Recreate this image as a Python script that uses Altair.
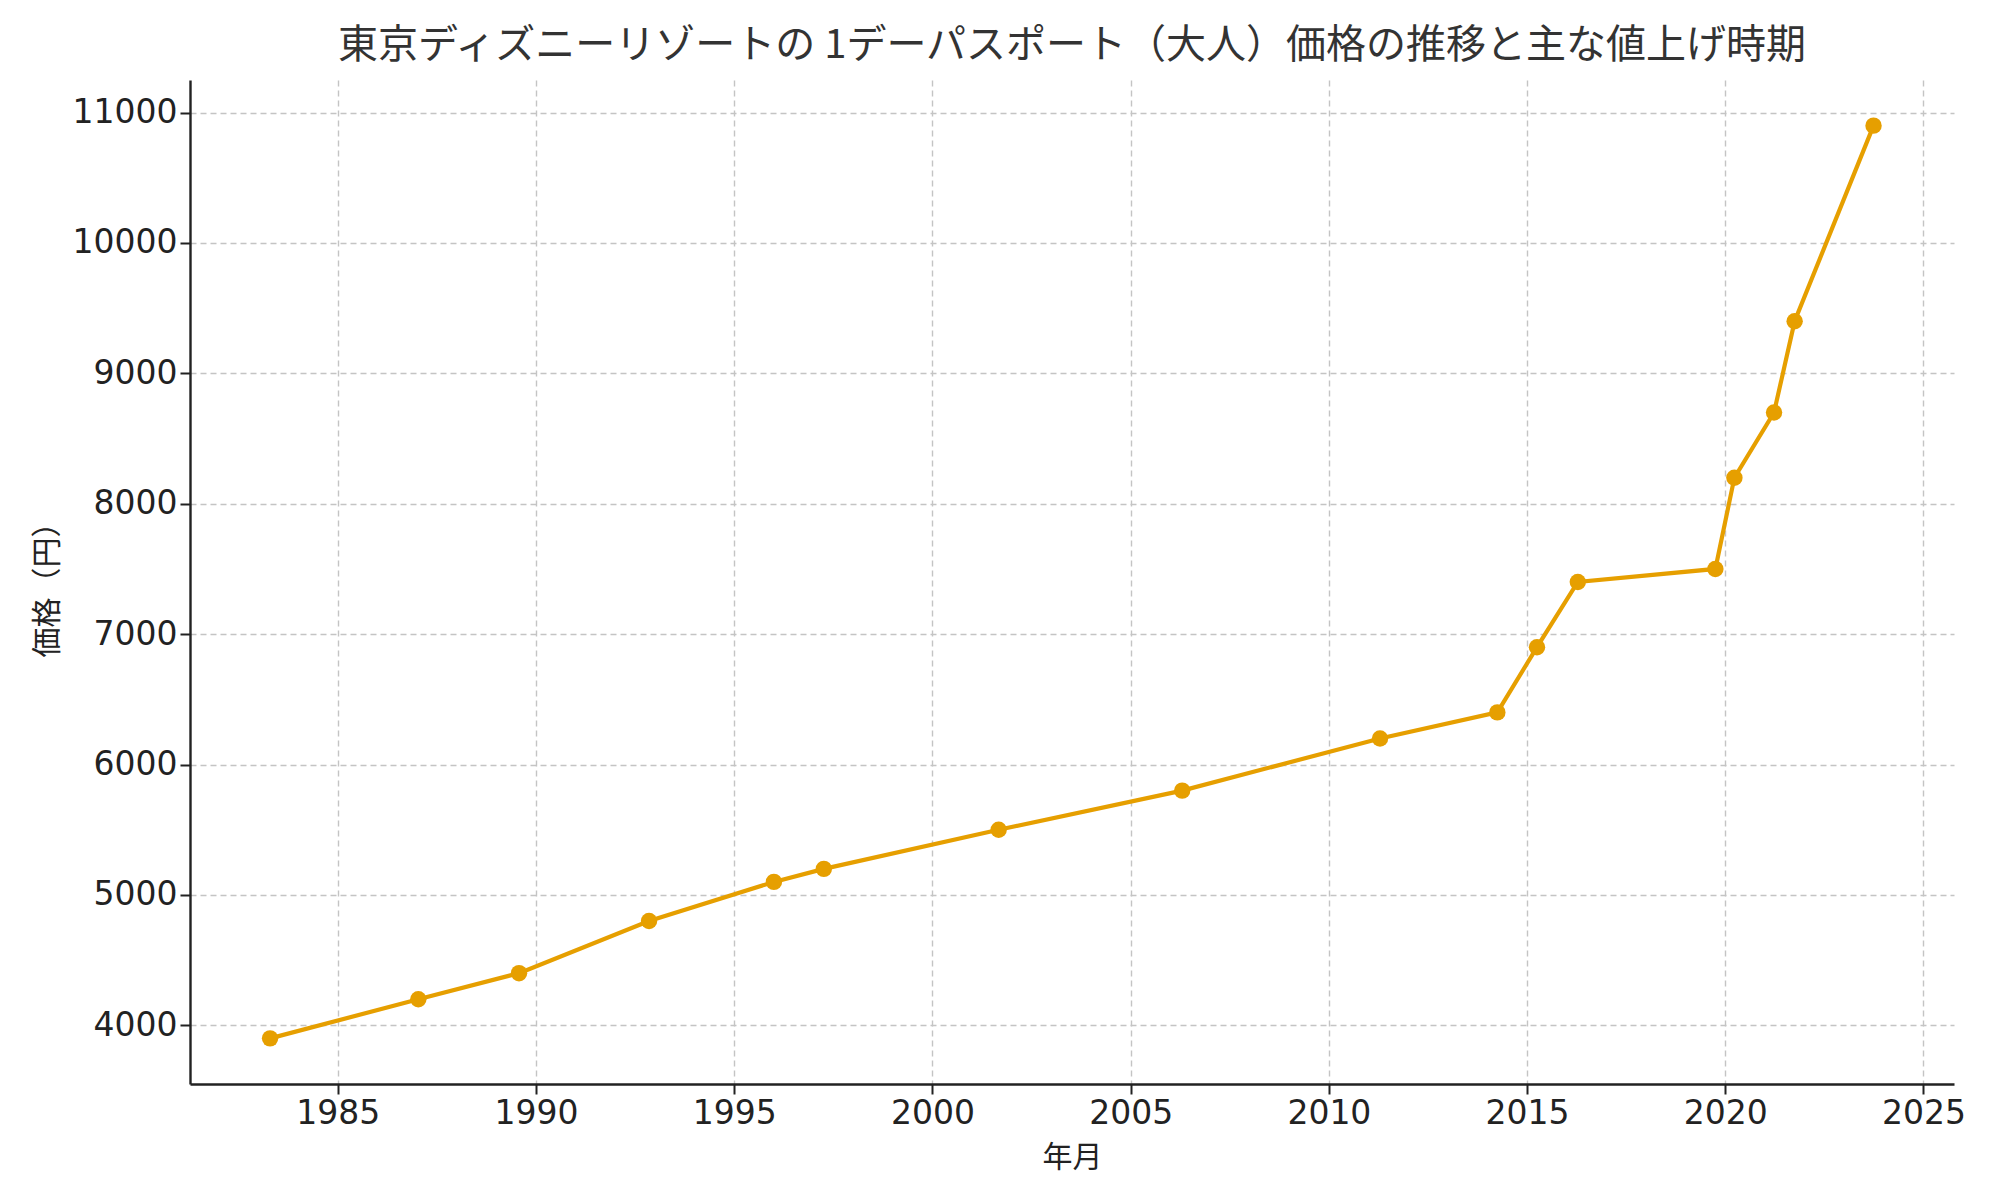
import altair as alt
import pandas as pd

years = [1983.29, 1987.03, 1989.57, 1992.85, 1996.0, 1997.26, 2001.67, 2006.30,
         2011.29, 2014.25, 2015.25, 2016.28, 2019.75, 2020.23, 2021.23, 2021.75, 2023.74]
prices = [3900, 4200, 4400, 4800, 5100, 5200, 5500, 5800,
          6200, 6400, 6900, 7400, 7500, 8200, 8700, 9400, 10900]
x_ticks = [1985, 1990, 1995, 2000, 2005, 2010, 2015, 2020, 2025]
y_ticks = [4000, 5000, 6000, 7000, 8000, 9000, 10000, 11000]

title_text = "東京ディズニーリゾートの 1デーパスポート（大人）価格の推移と主な値上げ時期"
x_label = "年月"
y_label = "価格（円）"

df = pd.DataFrame({"year": years, "price": prices})

color = "#E69F00"
common_axis = dict(format="d", labelFontSize=33, titleFontSize=30,
                   tickSize=10, tickWidth=2, tickColor="#222",
                   domainColor="#222", domainWidth=2.4,
                   labelColor="#222", titleColor="#222",
                   labelFont="DejaVu Sans", titleFont="Noto Sans CJK JP",
                   titleFontWeight="normal",
                   grid=True, gridColor="#c4c4c4", gridDash=[6, 4], gridWidth=1.4,
                   labelFlush=False)
x_enc = alt.X("year:Q", title=x_label,
              scale=alt.Scale(domain=[1981.27, 2025.77], nice=False, zero=False),
              axis=alt.Axis(values=x_ticks, titlePadding=12, labelPadding=3, **common_axis))
y_enc = alt.Y("price:Q", title=y_label,
              scale=alt.Scale(domain=[3550, 11250], nice=False, zero=False),
              axis=alt.Axis(values=y_ticks, titlePadding=10, labelPadding=3, **common_axis))

line = alt.Chart(df).mark_line(color=color, strokeWidth=4.2).encode(x=x_enc, y=y_enc)
pts = alt.Chart(df).mark_point(color=color, filled=True, opacity=1, size=270, shape="circle").encode(
    x="year:Q", y="price:Q")

chart = (line + pts).properties(
    width=1764, height=1004,
    autosize=alt.AutoSizeParams(type="none"),
    padding={"left": 182, "top": 72, "right": 30, "bottom": 100},
    title=alt.TitleParams(title_text, fontSize=40, font="Noto Sans CJK JP",
                          fontWeight="normal", color="#333", offset=14, anchor="middle"),
).configure(background="white").configure_view(strokeWidth=0, stroke=None)

chart.save("out.html", embed_options={"renderer": "svg", "actions": False})
